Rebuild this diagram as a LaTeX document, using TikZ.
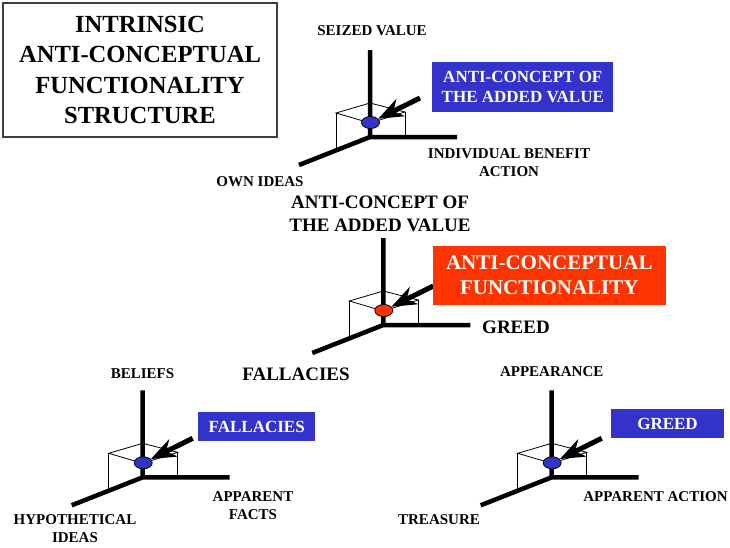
\documentclass[tikz,border=0pt]{standalone}
\usepackage{fontspec}
\setmainfont{Liberation Serif}
\usetikzlibrary{arrows.meta,shapes.geometric}
\definecolor{lblue}{RGB}{51,51,204}
\definecolor{lorange}{RGB}{255,51,0}
\begin{document}
\begin{tikzpicture}[x=1pt,y=-1pt,
  axis/.style={line width=4.5pt},
  thinedge/.style={line width=0.8pt},
  ptr/.style={line width=5pt,-{Stealth[length=25pt,width=19pt,inset=8pt]}},
  ball/.style={ellipse,draw=black,line width=0.8pt,minimum width=18pt,minimum height=12pt,inner sep=0pt},
  lab/.style={font=\bfseries\fontsize{15}{18}\selectfont,align=center,inner sep=0pt},
  big/.style={font=\bfseries\fontsize{19}{23}\selectfont,align=center,inner sep=0pt},
  tag/.style={fill=lblue,text=white,font=\bfseries\fontsize{17}{20}\selectfont,align=center,inner sep=0pt},
  otag/.style={fill=lorange,text=white,font=\bfseries\fontsize{21}{25}\selectfont,align=center,inner sep=0pt},
]
\useasboundingbox (0,0) rectangle (730,547);
\fill[white] (0,0) rectangle (730,547);

% title
\node[draw=black!75,line width=1.2pt,minimum width=274pt,minimum height=134pt,inner sep=0pt,
      font=\bfseries\fontsize{24.6}{30.3}\selectfont,align=center] (title) at (140,70)
  {INTRINSIC\\ANTI-CONCEPTUAL\\FUNCTIONALITY\\STRUCTURE};

% four axis diagrams
\foreach \n/\ox/\oy/\c in {a/370/137/lblue, b/383.3/325/lorange, c/142.7/477.3/lblue, d/551.7/477.3/lblue} {
  \begin{scope}[shift={(\ox,\oy)}]
    \coordinate (\n o) at (0,0);
    \coordinate (\n z) at (0,-87);
    \coordinate (\n x) at (87,0);
    \coordinate (\n y) at (-71,28);
    \coordinate (\n L) at (-34,-24);
    \coordinate (\n B) at (0,-34);
    \coordinate (\n R) at (35,-25);
    \coordinate (\n F) at (0,-14);
    \coordinate (\n Lb) at (-34,13.4);
    \coordinate (\n Rb) at (35,0);
    \coordinate (\n t) at (50,-39);
    \draw[thinedge] (\n L) -- (\n B) -- (\n R) -- (\n F) -- cycle;
    \draw[thinedge] (\n L) -- (\n Lb) (\n R) -- (\n Rb);
    \draw[axis] (\n z) -- (\n o) -- (\n x) (\n o) -- (\n y);
    \node[ball,fill=\c] (\n ball) at (0.5,-14.5) {};
    \draw[ptr] (\n t) -- (\n ball);
  \end{scope}
}

% tags
\node[tag,minimum width=181pt,minimum height=50pt] (taga) at (522.8,86.7) {ANTI-CONCEPT OF\\THE ADDED VALUE};
\node[otag,minimum width=233pt,minimum height=59pt] (tagb) at (549.3,275.5) {ANTI-CONCEPTUAL\\FUNCTIONALITY};
\node[tag,minimum width=117pt,minimum height=28.5pt] (tagc) at (256.7,426.5) {FALLACIES};
\node[tag,minimum width=113pt,minimum height=28.5pt] (tagd) at (667.5,423.5) {GREED};

% labels diagram a
\node[lab] (az) at (372,31) {SEIZED VALUE};
\node[lab] (ay) at (260,182) {OWN IDEAS};
\node[lab] (ax) at (509,162.5) {INDIVIDUAL BENEFIT\\ACTION};
% labels diagram b
\node[big] (bz) at (380,214) {ANTI-CONCEPT OF\\THE ADDED VALUE};
\node[big] (bx) at (516,327) {GREED};
\node[big] (by) at (296,374) {FALLACIES};
% labels diagram c
\node[lab] (cz) at (142.5,374) {BELIEFS};
\node[lab] (cx) at (253,506) {APPARENT\\FACTS};
\node[lab] (cy) at (75,528.5) {HYPOTHETICAL\\IDEAS};
% labels diagram d
\node[lab] (dz) at (551.7,371.7) {APPEARANCE};
\node[lab] (dx) at (655.5,497) {APPARENT ACTION};
\node[lab] (dy) at (439,520) {TREASURE};
\end{tikzpicture}
\end{document}
